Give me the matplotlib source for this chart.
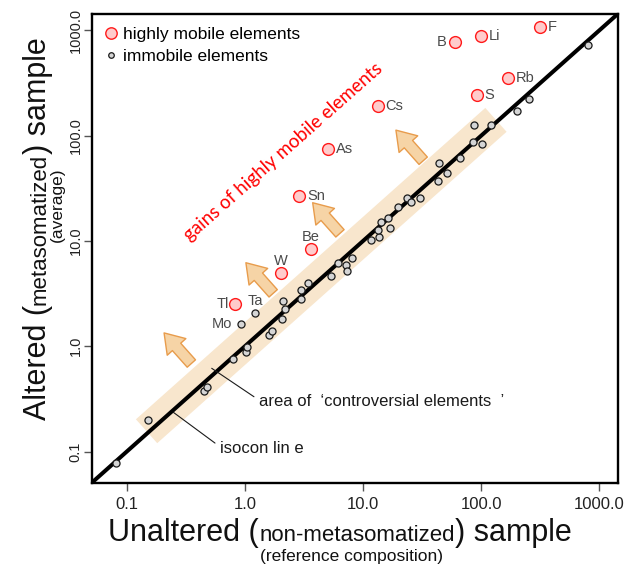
import matplotlib
matplotlib.use('Agg')
import matplotlib.pyplot as plt
from matplotlib.lines import Line2D
from matplotlib.patches import Polygon
from matplotlib.ticker import NullLocator
from matplotlib.transforms import IdentityTransform
import numpy as np

plt.rcParams['font.family'] = ['Liberation Sans', 'DejaVu Sans']

# ---------------- data ----------------
mobile_names = ['F', 'Li', 'B', 'Rb', 'S', 'Cs', 'As', 'Sn', 'Be', 'W', 'Tl']
mobile_x = [315, 99, 60, 168, 91.7, 13.5, 5.09, 2.89, 3.63, 2.01, 0.826]
mobile_y = [1084, 885, 781, 356, 244, 191, 74.8, 26.9, 8.34, 4.93, 2.5]

immobile_x = [0.0807, 0.1506, 0.454, 0.481, 0.789, 1.017, 1.037, 1.61, 1.69, 2.06,
              2.19, 2.09, 2.97, 2.97, 3.44, 5.36, 6.14, 7.14, 7.36, 8.07,
              11.7, 13.7, 13.3, 14.2, 16.8, 16.4, 19.7, 23.7, 25.3, 30.4,
              42.9, 51.4, 43.7, 66.2, 85.9, 101, 87.1, 122, 202, 253, 807]
immobile_y = [0.0774, 0.1995, 0.378, 0.413, 0.753, 0.883, 0.99, 1.28, 1.41, 1.80,
              2.26, 2.69, 2.81, 3.42, 3.97, 4.68, 6.18, 5.92, 5.22, 6.85,
              10.2, 11.0, 12.7, 15.1, 13.3, 16.7, 20.9, 25.8, 23.7, 25.4,
              36.9, 44.6, 54.7, 61.0, 87.7, 83.4, 126, 126, 172, 222, 727]

labeled_immobile_names = ['Ta', 'Mo']
labeled_immobile_x = [1.22, 0.92]
labeled_immobile_y = [2.06, 1.62]

tick_values = [0.1, 1, 10, 100, 1000]
tick_labels = ['0.1', '1.0', '10.0', '100.0', '1000.0']
axis_limits = (0.0503, 1433)

band_range = (0.151, 137)          # isocon values at the two ends of the band
arrow_tips_x = [0.207, 1.02, 3.75, 19.0]
arrow_tips_y = [1.34, 6.22, 23.1, 113]

# ---------------- styles ----------------
W, H = 627, 570
RED_EDGE = '#ff1a1a'
RED_FILL = '#ffcccc'
GRAY_FILL = '#d5d5d5'
BAND = '#f8e6cd'
ARROW_FILL = '#f6d4a6'
ARROW_EDGE = '#e89c4c'
LABEL_GRAY = '#4a4a4a'

# label placement: (dx px, dy px, ha)
place = {'F': (8, 0, 'left'), 'Li': (8, 0, 'left'), 'B': (-8, 0, 'right'),
         'Rb': (8, 0, 'left'), 'S': (8, 0, 'left'), 'Cs': (7, 0, 'left'),
         'As': (8, 0, 'left'), 'Sn': (8, 0, 'left'), 'Be': (0, 12, 'center'),
         'W': (0, 12, 'center'), 'Tl': (-6, 0, 'right'),
         'Ta': (0, 12, 'center'), 'Mo': (-8, 0, 'right')}

fig = plt.figure(figsize=(W / 100, H / 100), dpi=100)
ax = fig.add_axes([91.5 / W, 1 - 483 / H, (617.7 - 91.5) / W, (483 - 14) / H])
ax.set_xscale('log')
ax.set_yscale('log')
ax.set_xlim(axis_limits)
ax.set_ylim(axis_limits)
ax.set_xticks(tick_values)
ax.set_xticklabels(tick_labels)
ax.set_yticks(tick_values)
ax.set_yticklabels(tick_labels)
ax.xaxis.set_minor_locator(NullLocator())
ax.yaxis.set_minor_locator(NullLocator())
ax.tick_params(direction='out', length=5.5, width=1, color='#555555',
               labelcolor='#222222')
ax.tick_params(axis='x', labelsize=12, pad=4.5)
ax.tick_params(axis='y', labelsize=10.5, labelrotation=90, pad=1)
for lab in ax.get_yticklabels():
    lab.set_va('center')
for sp in ax.spines.values():
    sp.set_linewidth(1.7)
    sp.set_color('black')

# isocon line
ax.axline((1, 1), (10, 10), color='black', lw=2.9, zorder=3, solid_capstyle='butt')

# band along isocon (built in display space around the isocon)
td = ax.transData
p0 = td.transform((band_range[0], band_range[0]))
p1 = td.transform((band_range[1], band_range[1]))
d = (p1 - p0) / np.hypot(*(p1 - p0))
n = np.array([-d[1], d[0]])
hw, off = 16, 2
corners_disp = [p0 + n * (off + hw), p1 + n * (off + hw), p1 + n * (off - hw), p0 + n * (off - hw)]
corners = td.inverted().transform(corners_disp)
ax.add_patch(Polygon(corners, closed=True, fc=BAND, ec='none', zorder=1))

# arrows (perpendicular to the isocon, pointing to gains)
alen = 41
for tx, ty in zip(arrow_tips_x, arrow_tips_y):
    ax.annotate('', xy=(tx, ty), xytext=(-n[0] * alen, -n[1] * alen),
                textcoords='offset pixels',
                arrowprops=dict(arrowstyle='simple,head_length=13.5,head_width=18,tail_width=8',
                                mutation_scale=1, fc=ARROW_FILL, ec=ARROW_EDGE, lw=1,
                                shrinkA=0, shrinkB=0), zorder=2)

# points
ax.scatter(immobile_x, immobile_y, s=26, fc=GRAY_FILL, ec='#1a1a1a', lw=0.9, zorder=4)
ax.scatter(labeled_immobile_x, labeled_immobile_y, s=26, fc=GRAY_FILL, ec='#1a1a1a', lw=0.9, zorder=4)
ax.scatter(mobile_x, mobile_y, s=72, fc=RED_FILL, ec=RED_EDGE, lw=1.0, zorder=5)

for name, x, y in list(zip(mobile_names, mobile_x, mobile_y)) + \
        list(zip(labeled_immobile_names, labeled_immobile_x, labeled_immobile_y)):
    dx, dy, ha = place[name]
    ax.annotate(name, xy=(x, y), xytext=(dx, dy), textcoords='offset pixels',
                ha=ha, va='center', fontsize=10.5, color=LABEL_GRAY, zorder=6)

# annotation texts
ax.text(2.10, 70.0, 'gains of highly mobile elements', rotation=41.5,
        rotation_mode='anchor', ha='center', va='center', color='red',
        fontsize=13.5, family=['Lato', 'DejaVu Sans'])

ax.annotate('area of  \u2018controversial elements  \u2019', xy=(0.524, 0.618),
            xytext=(1.318, 0.298), ha='left', va='center', fontsize=12,
            color='#1a1a1a',
            arrowprops=dict(arrowstyle='-', lw=0.8, color='#1a1a1a',
                            shrinkA=2, shrinkB=0, relpos=(0, 0.6)))
ax.annotate('isocon lin e', xy=(0.248, 0.236), xytext=(0.616, 0.1075),
            ha='left', va='center', fontsize=12, color='#1a1a1a',
            arrowprops=dict(arrowstyle='-', lw=0.8, color='#1a1a1a',
                            shrinkA=2, shrinkB=0, relpos=(0, 0.6)))

# legend
handles = [Line2D([], [], ls='', marker='o', ms=8.2, mfc=RED_FILL, mec=RED_EDGE, mew=1),
           Line2D([], [], ls='', marker='o', ms=4, mfc=GRAY_FILL, mec='#1a1a1a', mew=0.9)]
ax.legend(handles, ['highly mobile elements', 'immobile elements'], loc='upper left',
          frameon=False, fontsize=12.5, handlelength=0.8, handletextpad=0.3,
          borderpad=0.4, borderaxespad=0.33, labelspacing=0.42)

# ---------------- mixed-size axis titles ----------------
renderer = fig.canvas.get_renderer()


def measure(s, size):
    t = fig.text(0, 0, s, fontsize=size)
    w = t.get_window_extent(renderer).width
    t.remove()
    return w


def pieces_text(pieces, center, base, vertical=False):
    widths = [measure(s, sz) for s, sz in pieces]
    pos = center - sum(widths) / 2
    for (s, sz), w in zip(pieces, widths):
        if vertical:
            fig.text(base, pos, s, fontsize=sz, rotation=90, rotation_mode='anchor',
                     ha='left', va='baseline', transform=IdentityTransform(), color='#111111')
        else:
            fig.text(pos, base, s, fontsize=sz, ha='left', va='baseline',
                     transform=IdentityTransform(), color='#111111')
        pos += w


pieces_text([('Unaltered (', 22), ('non-metasomatized', 16), (') sample', 22)],
            center=340, base=H - 541)
fig.text(352 / W, 1 - 556 / H, '(reference composition)', fontsize=12.5,
         ha='center', va='center', color='#111111')

pieces_text([('Altered (', 22), ('metasomatized', 16), (') sample', 22)],
            center=H - 229, base=46, vertical=True)
fig.text(62, H - 205, '(average)', fontsize=12.5, rotation=90, rotation_mode='anchor',
         ha='center', va='baseline', transform=IdentityTransform(), color='#111111')

fig.savefig('out.png', dpi=100)
